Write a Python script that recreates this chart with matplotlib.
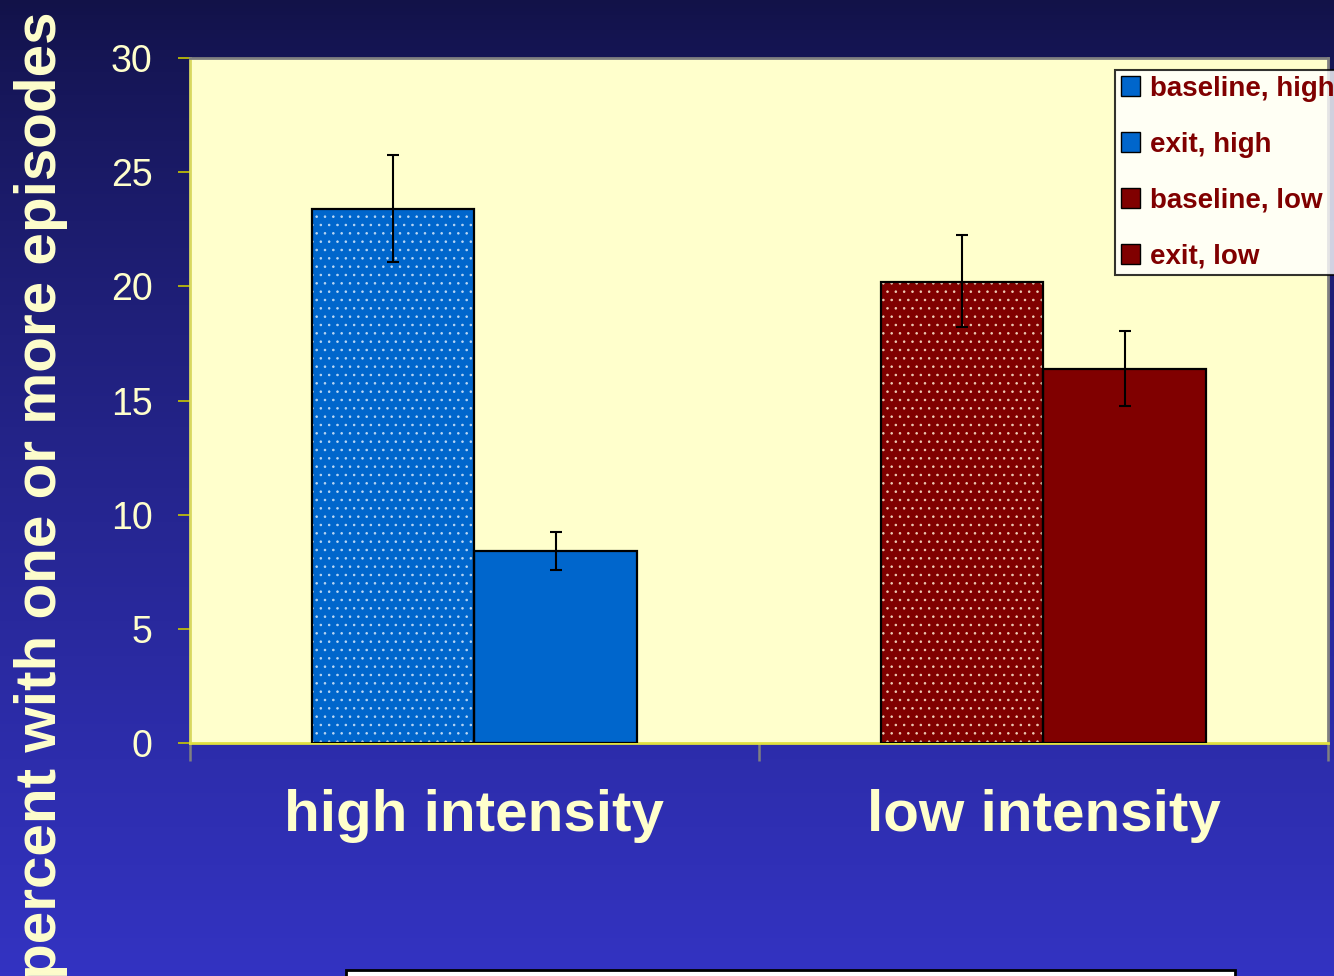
import numpy as np
import matplotlib
matplotlib.use('Agg')
import matplotlib.pyplot as plt
from matplotlib.patches import Rectangle, Patch

# data
categories = ['high intensity', 'low intensity']
series = ['baseline, high', 'exit, high', 'baseline, low', 'exit, low']
values = [23.4, 8.4, 20.2, 16.4]
err_lo = [2.35, 0.82, 2.0, 1.62]
err_hi = [2.35, 0.83, 2.05, 1.65]
group = [0, 0, 1, 1]
side = [-1, 1, -1, 1]

colors = ['#0066cc', '#0066cc', '#800000', '#800000']
hatches = ['..', '', '..', '']
hatch_cols = ['#bcd8f4', '#0066cc', '#f0cfb8', '#800000']

plt.rcParams['font.family'] = ['Liberation Sans', 'DejaVu Sans']
plt.rcParams['hatch.linewidth'] = 0.6

fig = plt.figure(figsize=(13.34, 9.76), dpi=100)

# gradient background
bg = fig.add_axes([0, 0, 1, 1], zorder=-10)
grad = np.linspace(0, 1, 256).reshape(-1, 1)
top = np.array([0x12, 0x12, 0x48]) / 255
bot = np.array([0x33, 0x33, 0xc2]) / 255
img = top + (bot - top) * grad[:, :, None] ** 0.8
bg.imshow(img, aspect='auto', extent=[0, 1, 0, 1], origin='upper')
bg.axis('off')

ax = fig.add_axes([0.1424, 0.2387, 0.9955 - 0.1424, 0.9406 - 0.2387])
ax.set_facecolor('#ffffcc')

w = 0.285
for i in range(4):
    x = group[i] + side[i] * w / 2
    ax.bar(x, values[i], width=w, color=colors[i], edgecolor=hatch_cols[i],
           hatch=hatches[i], linewidth=0, zorder=2)
    ax.bar(x, values[i], width=w, facecolor='none', edgecolor='black',
           linewidth=1.6, zorder=3)
    ax.errorbar(x, values[i], yerr=[[err_lo[i]], [err_hi[i]]], fmt='none',
                ecolor='black', elinewidth=1.5, capsize=4.5, capthick=1.5, zorder=4)

ax.set_xlim(-0.5, 1.5)
ax.set_ylim(0, 30)
ax.set_yticks([0, 5, 10, 15, 20, 25, 30])
ax.set_yticklabels(['0', '5', '10', '15', '20', '25', '30'], fontsize=27, color='#ffffcc')
ax.tick_params(axis='y', length=9, width=1.2, color='#c8c800', pad=18)

ax.set_xticks([-0.5, 0.5, 1.5])
ax.set_xticklabels(['', '', ''])
ax.tick_params(axis='x', length=13, width=1.8, color='#808080')
for i, c in enumerate(categories):
    ax.text(i, -2.0, c, ha='center', va='top', fontsize=42, fontweight='bold',
            color='#ffffcc')

ax.spines['left'].set_color('#d8d860')
ax.spines['bottom'].set_color('#e0e040')
ax.spines['top'].set_color('#808080')
ax.spines['right'].set_color('#808080')
for s in ax.spines.values():
    s.set_linewidth(2)

fig.text(0.031, -0.003, 'percent with one or more episodes', rotation=90,
         ha='center', va='bottom', fontsize=42, fontweight='bold', color='#ffffcc')

handles = [Patch(facecolor=colors[i], edgecolor='black', linewidth=1)
           for i in range(4)]
leg = fig.legend(handles, series, loc='upper left', bbox_to_anchor=(0.8358, 0.9283),
                 bbox_transform=fig.transFigure, frameon=True, fancybox=False,
                 prop={'weight': 'bold', 'size': 20}, labelcolor='#800000',
                 handlelength=0.7, handleheight=0.7, handletextpad=0.35,
                 labelspacing=1.08, borderpad=0.2, borderaxespad=0)
leg.get_frame().set_edgecolor('black')
leg.get_frame().set_linewidth(1.5)
leg.get_frame().set_facecolor('white')

# text box at the bottom edge
fig.patches.append(Rectangle((346 / 1334, -0.01), (1235 - 346) / 1334, 0.016,
                             transform=fig.transFigure, facecolor='white',
                             edgecolor='black', linewidth=2))

fig.savefig('out.png', dpi=100)
